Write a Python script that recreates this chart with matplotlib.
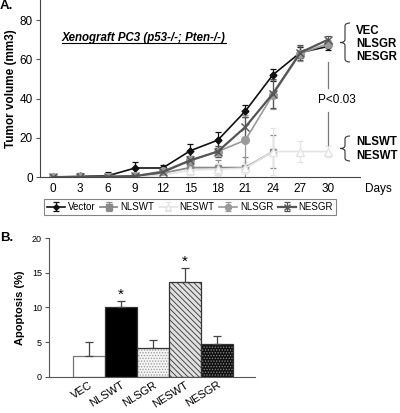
import numpy as np
import matplotlib
matplotlib.use('Agg')
import matplotlib.pyplot as plt
from matplotlib.path import Path
from matplotlib.patches import PathPatch

plt.rcParams['font.family'] = ['Liberation Sans', 'DejaVu Sans']
plt.rcParams['hatch.linewidth'] = 0.6

# panel A: tumor volume over days
days = [0, 3, 6, 9, 12, 15, 18, 21, 24, 27, 30]
vector = [0, 0.3, 0.6, 4.6, 4.6, 13.4, 18.8, 33.6, 52.1, 63.5, 66.6]
vector_err = [0, 1.5, 2, 3, 1.5, 3.4, 4, 3.2, 3.2, 3, 2]
nlswt = [0, 0, 0, 0.3, 2, 4.8, 4.8, 4.8, 13, np.nan, np.nan]
nlswt_err = [0, 0.5, 0.5, 0.5, 2, 3.5, 4, 5.5, 8.6, 0, 0]
neswt = [0, 0, 0, 0, 1, 3.5, 4, 4.5, 13, 13, 13]
neswt_err = [0, 0.5, 0.5, 0.5, 1, 2.5, 3, 3, 12, 5.5, 3]
nlsgr = [0, 0, 0.2, 0.5, 3, 8.5, 13, 18.8, 42, 63, 68]
nlsgr_err = [0, 0.5, 0.5, 0.5, 2, 2, 3, 13, 7.5, 4, 2]
nesgr = [0, 0, 0.2, 0.5, 2.5, 8.5, 13, 25.5, 42.5, 63.5, 70]
nesgr_err = [0, 0.5, 0.5, 0.5, 1.5, 2, 3, 5, 7.5, 4, 2]

# panel B: apoptosis
groups = ['VEC', 'NLSWT', 'NLSGR', 'NESWT', 'NESGR']
apop = [3.0, 10.0, 4.2, 13.7, 4.8]
apop_err = [2.1, 1.0, 1.1, 2.0, 1.1]
signif = [False, True, False, True, False]

W, H = 400, 413
fig = plt.figure(figsize=(4, 4.13), dpi=100)


def brace(x, ytop, ybot, w=5):
    # curly brace drawn in figure pixel coords (y measured from top)
    ym = (ytop + ybot) / 2
    pts = [(x + w, ytop), (x, ytop), (x, ytop + 3), (x, ym - 3),
           (x, ym), (x - w, ym), (x, ym), (x, ym + 3),
           (x, ybot - 3), (x, ybot), (x + w, ybot)]
    codes = [Path.MOVETO, Path.CURVE3, Path.CURVE3, Path.LINETO,
             Path.CURVE3, Path.CURVE3, Path.CURVE3, Path.CURVE3,
             Path.LINETO, Path.CURVE3, Path.CURVE3]
    pts = [(px / W, 1 - py / H) for px, py in pts]
    fig.add_artist(PathPatch(Path(pts, codes), fill=False, lw=0.8,
                             edgecolor='#333333', transform=fig.transFigure))


ax = fig.add_axes([0.1, 0.5714, 0.8, 0.4286])
series = [
    ('Vector', vector, vector_err, '#111111', 'D', '#111111', 3.5, 1.2),
    ('NLSWT', nlswt, nlswt_err, '#8a8a8a', 's', '#8a8a8a', 5, 1.3),
    ('NESWT', neswt, neswt_err, '#e4e4e4', '^', 'white', 6, 1.2),
    ('NLSGR', nlsgr, nlsgr_err, '#9a9a9a', 'o', '#9a9a9a', 5.5, 1.2),
    ('NESGR', nesgr, nesgr_err, '#555555', 'x', '#555555', 6, 1.6),
]
for name, vals, err, col, mk, fc, ms, lw in series:
    ax.errorbar(days, vals, yerr=err, color=col, marker=mk, mfc=fc, mec=col,
                ms=ms, lw=lw, elinewidth=0.9, capsize=2.5, capthick=0.9,
                label=name)

ax.set_xlim(-1.38, 33.5)
ax.set_ylim(0, 90.3)
ax.set_xticks(days)
ax.set_yticks([0, 20, 40, 60, 80])
ax.tick_params(axis='x', length=0, labelsize=8.5, pad=4)
ax.tick_params(axis='y', length=3, labelsize=8.5, pad=2, color='#555555')
for s in ['top', 'right']:
    ax.spines[s].set_visible(False)
for s in ['left', 'bottom']:
    ax.spines[s].set_color('#444444')
    ax.spines[s].set_linewidth(0.8)
ax.set_ylabel('Tumor volume (mm3)', fontsize=8.5, fontweight='bold', labelpad=2)

# P value line
ax.plot([30, 30], [58.7, 45.4], color='#777777', lw=0.9)
ax.plot([30, 30], [33.2, 16.3], color='#777777', lw=0.9)
fig.text(0.842, 1 - 100 / H, 'P<0.03', fontsize=8.5, ha='center', va='center')

title = fig.text(62 / W, 1 - 38 / H, 'Xenograft PC3 (p53-/-; Pten-/-)',
                 fontsize=8.3, fontweight='bold', style='italic',
                 ha='left', va='center')

fig.text(378 / W, 1 - 189 / H, 'Days', fontsize=8.5, ha='center', va='center')
fig.text(0.0, 1 - 6 / H, 'A.', fontsize=9.5, fontweight='bold', ha='left', va='center')

# brackets and group labels
brace(345, 23, 62)
for lab, yy in [('VEC', 30.7), ('NLSGR', 43.7), ('NESGR', 56.7)]:
    fig.text(356 / W, 1 - yy / H, lab, fontsize=8.3, fontweight='bold',
             ha='left', va='center')
brace(345, 136, 161)
for lab, yy in [('NLSWT', 141.7), ('NESWT', 155.7)]:
    fig.text(356 / W, 1 - yy / H, lab, fontsize=8.3, fontweight='bold',
             ha='left', va='center')

leg = fig.legend(loc='center', bbox_to_anchor=(190 / W, 1 - 207 / H), ncol=5,
                 fontsize=7, frameon=True, fancybox=False, handlelength=1.8,
                 handletextpad=0.3, columnspacing=0.5, borderpad=0.35,
                 edgecolor='#666666', markerscale=0.8)
leg.get_frame().set_linewidth(0.8)

# panel B
bx = fig.add_axes([0.1225, 0.0872, 0.515, 0.3365])
x = np.arange(len(groups))
faces = ['white', 'black', '#f4f4f4', '#e0e0e0', '#111111']
hatches = [None, None, '......', '\\\\\\\\\\\\', '......']
hcols = ['#666666', 'black', '#9a9a9a', '#333333', '#8a8a8a']
for i in range(len(groups)):
    bx.bar(x[i], apop[i], width=1.0, color=faces[i], edgecolor=hcols[i],
           hatch=hatches[i], lw=0)
    edge = '#777777' if i == 0 else '#333333'
    bx.bar(x[i], apop[i], width=1.0, fill=False, edgecolor=edge, lw=0.9)
bx.errorbar(x, apop, yerr=[np.zeros(len(apop)), apop_err], fmt='none',
            ecolor='#444444', elinewidth=0.9, capsize=3, capthick=0.9)
for i in range(len(groups)):
    if signif[i]:
        bx.text(x[i], apop[i] + apop_err[i] + 0.9, '*', fontsize=11,
                ha='center', va='center')

bx.set_xlim(-1.25, 5.19)
bx.set_ylim(0, 20)
bx.set_yticks([0, 5, 10, 15, 20])
bx.set_xticks(x)
bx.set_xticklabels(groups, rotation=32, ha='right', rotation_mode='anchor')
bx.tick_params(axis='x', length=0, labelsize=8, pad=2)
bx.tick_params(axis='y', length=3, labelsize=6.5, pad=2, color='#555555')
for s in ['top', 'right']:
    bx.spines[s].set_visible(False)
for s in ['left', 'bottom']:
    bx.spines[s].set_color('#555555')
    bx.spines[s].set_linewidth(0.8)
bx.set_ylabel('Apoptosis (%)', fontsize=8, fontweight='bold', labelpad=5)
fig.text(0.0, 1 - 238 / H, 'B.', fontsize=9.5, fontweight='bold', ha='left', va='center')

# underline the title
fig.canvas.draw()
bb = title.get_window_extent().transformed(fig.transFigure.inverted())
fig.add_artist(plt.Line2D([bb.x0, bb.x1], [bb.y0 + 0.002, bb.y0 + 0.002],
                          transform=fig.transFigure, color='black', lw=0.8))

fig.savefig('out.png', dpi=100)
